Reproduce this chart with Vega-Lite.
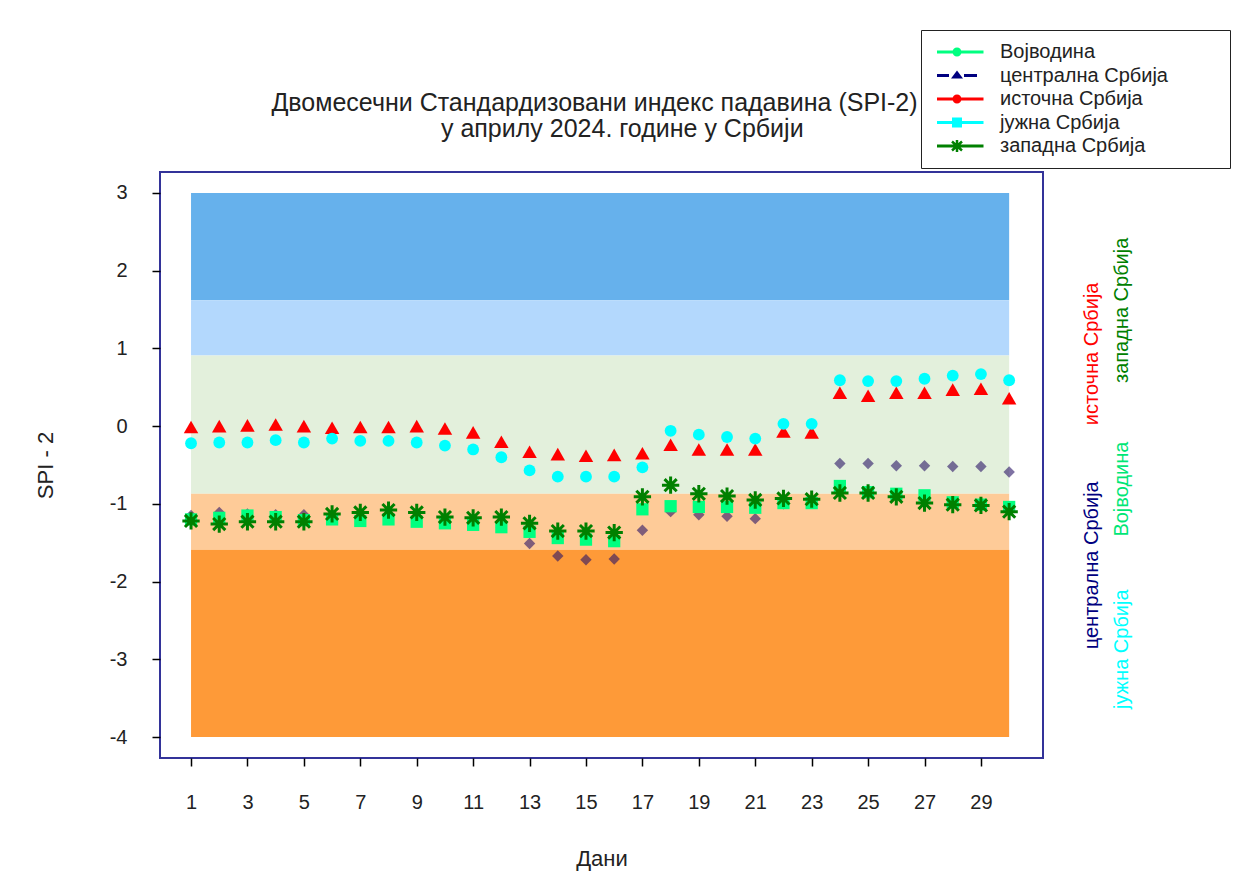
{
  "$schema": "https://vega.github.io/schema/vega-lite/v6.json",
  "width": 883,
  "height": 586,
  "autosize": {"type": "none"},
  "padding": {"left": 160, "top": 172, "right": 202, "bottom": 124},
  "background": "white",
  "config": {
    "font": "Liberation Sans",
    "view": {"stroke": "#333399", "strokeWidth": 2},
    "axis": {"grid": false, "domain": false, "tickColor": "black", "tickSize": 8, "tickWidth": 1.5,
             "labelFont": "Liberation Sans", "labelFontSize": 20, "labelColor": "#222222",
             "titleFont": "Liberation Sans", "titleFontSize": 22, "titleFontWeight": "normal", "titleColor": "#222222"}
  },
  "title": {
    "text": ["Двомесечни Стандардизовани индекс падавина (SPI-2)", "\u200b\u00a0\u00a0\u00a0\u00a0\u00a0\u00a0\u00a0\u00a0у априлу 2024. године у Србији"],
    "anchor": "middle", "frame": "group", "dx": -7, "dy": 150, "offset": 38, "fontSize": 25, "fontWeight": "normal", "font": "Liberation Sans",
    "color": "#222222", "lineHeight": 26
  },
  "datasets": {
    "spi": [
      {"day":1,"region":"Војводина","spi":-1.20},{"day":2,"region":"Војводина","spi":-1.18},{"day":3,"region":"Војводина","spi":-1.15},{"day":4,"region":"Војводина","spi":-1.17},{"day":5,"region":"Војводина","spi":-1.21},{"day":6,"region":"Војводина","spi":-1.20},{"day":7,"region":"Војводина","spi":-1.22},{"day":8,"region":"Војводина","spi":-1.20},{"day":9,"region":"Војводина","spi":-1.23},{"day":10,"region":"Војводина","spi":-1.25},{"day":11,"region":"Војводина","spi":-1.27},{"day":12,"region":"Војводина","spi":-1.30},{"day":13,"region":"Војводина","spi":-1.36},{"day":14,"region":"Војводина","spi":-1.44},{"day":15,"region":"Војводина","spi":-1.46},{"day":16,"region":"Војводина","spi":-1.48},{"day":17,"region":"Војводина","spi":-1.07},{"day":18,"region":"Војводина","spi":-1.03},{"day":19,"region":"Војводина","spi":-1.04},{"day":20,"region":"Војводина","spi":-1.04},{"day":21,"region":"Војводина","spi":-1.05},{"day":22,"region":"Војводина","spi":-0.99},{"day":23,"region":"Војводина","spi":-0.99},{"day":24,"region":"Војводина","spi":-0.77},{"day":25,"region":"Војводина","spi":-0.85},{"day":26,"region":"Војводина","spi":-0.87},{"day":27,"region":"Војводина","spi":-0.89},{"day":28,"region":"Војводина","spi":-0.98},{"day":29,"region":"Војводина","spi":-1.01},{"day":30,"region":"Војводина","spi":-1.04},
      {"day":1,"region":"централна Србија","spi":-1.15},{"day":2,"region":"централна Србија","spi":-1.11},{"day":3,"region":"централна Србија","spi":-1.13},{"day":4,"region":"централна Србија","spi":-1.14},{"day":5,"region":"централна Србија","spi":-1.14},{"day":6,"region":"централна Србија","spi":-1.15},{"day":7,"region":"централна Србија","spi":-1.17},{"day":8,"region":"централна Србија","spi":-1.17},{"day":9,"region":"централна Србија","spi":-1.16},{"day":10,"region":"централна Србија","spi":-1.19},{"day":11,"region":"централна Србија","spi":-1.22},{"day":12,"region":"централна Србија","spi":-1.30},{"day":13,"region":"централна Србија","spi":-1.51},{"day":14,"region":"централна Србија","spi":-1.67},{"day":15,"region":"централна Србија","spi":-1.72},{"day":16,"region":"централна Србија","spi":-1.71},{"day":17,"region":"централна Србија","spi":-1.34},{"day":18,"region":"централна Србија","spi":-1.10},{"day":19,"region":"централна Србија","spi":-1.14},{"day":20,"region":"централна Србија","spi":-1.16},{"day":21,"region":"централна Србија","spi":-1.19},{"day":22,"region":"централна Србија","spi":-1.00},{"day":23,"region":"централна Србија","spi":-0.97},{"day":24,"region":"централна Србија","spi":-0.48},{"day":25,"region":"централна Србија","spi":-0.48},{"day":26,"region":"централна Србија","spi":-0.51},{"day":27,"region":"централна Србија","spi":-0.51},{"day":28,"region":"централна Србија","spi":-0.52},{"day":29,"region":"централна Србија","spi":-0.52},{"day":30,"region":"централна Србија","spi":-0.59},
      {"day":1,"region":"источна Србија","spi":-0.01},{"day":2,"region":"источна Србија","spi":0.00},{"day":3,"region":"источна Србија","spi":0.01},{"day":4,"region":"источна Србија","spi":0.02},{"day":5,"region":"источна Србија","spi":0.00},{"day":6,"region":"источна Србија","spi":-0.02},{"day":7,"region":"источна Србија","spi":-0.01},{"day":8,"region":"источна Србија","spi":-0.01},{"day":9,"region":"источна Србија","spi":0.00},{"day":10,"region":"источна Србија","spi":-0.03},{"day":11,"region":"источна Србија","spi":-0.08},{"day":12,"region":"источна Србија","spi":-0.20},{"day":13,"region":"источна Србија","spi":-0.33},{"day":14,"region":"источна Србија","spi":-0.36},{"day":15,"region":"источна Србија","spi":-0.38},{"day":16,"region":"источна Србија","spi":-0.37},{"day":17,"region":"источна Србија","spi":-0.35},{"day":18,"region":"источна Србија","spi":-0.24},{"day":19,"region":"источна Србија","spi":-0.30},{"day":20,"region":"источна Србија","spi":-0.30},{"day":21,"region":"источна Србија","spi":-0.30},{"day":22,"region":"источна Србија","spi":-0.07},{"day":23,"region":"источна Србија","spi":-0.08},{"day":24,"region":"источна Србија","spi":0.43},{"day":25,"region":"источна Србија","spi":0.39},{"day":26,"region":"источна Србија","spi":0.43},{"day":27,"region":"источна Србија","spi":0.43},{"day":28,"region":"источна Србија","spi":0.47},{"day":29,"region":"источна Србија","spi":0.48},{"day":30,"region":"источна Србија","spi":0.36},
      {"day":1,"region":"јужна Србија","spi":-0.22},{"day":2,"region":"јужна Србија","spi":-0.21},{"day":3,"region":"јужна Србија","spi":-0.21},{"day":4,"region":"јужна Србија","spi":-0.18},{"day":5,"region":"јужна Србија","spi":-0.21},{"day":6,"region":"јужна Србија","spi":-0.16},{"day":7,"region":"јужна Србија","spi":-0.19},{"day":8,"region":"јужна Србија","spi":-0.19},{"day":9,"region":"јужна Србија","spi":-0.21},{"day":10,"region":"јужна Србија","spi":-0.25},{"day":11,"region":"јужна Србија","spi":-0.30},{"day":12,"region":"јужна Србија","spi":-0.40},{"day":13,"region":"јужна Србија","spi":-0.57},{"day":14,"region":"јужна Србија","spi":-0.65},{"day":15,"region":"јужна Србија","spi":-0.65},{"day":16,"region":"јужна Србија","spi":-0.65},{"day":17,"region":"јужна Србија","spi":-0.53},{"day":18,"region":"јужна Србија","spi":-0.06},{"day":19,"region":"јужна Србија","spi":-0.11},{"day":20,"region":"јужна Србија","spi":-0.14},{"day":21,"region":"јужна Србија","spi":-0.16},{"day":22,"region":"јужна Србија","spi":0.03},{"day":23,"region":"јужна Србија","spi":0.03},{"day":24,"region":"јужна Србија","spi":0.59},{"day":25,"region":"јужна Србија","spi":0.58},{"day":26,"region":"јужна Србија","spi":0.58},{"day":27,"region":"јужна Србија","spi":0.61},{"day":28,"region":"јужна Србија","spi":0.65},{"day":29,"region":"јужна Србија","spi":0.67},{"day":30,"region":"јужна Србија","spi":0.59},
      {"day":1,"region":"западна Србија","spi":-1.22},{"day":2,"region":"западна Србија","spi":-1.26},{"day":3,"region":"западна Србија","spi":-1.23},{"day":4,"region":"западна Србија","spi":-1.23},{"day":5,"region":"западна Србија","spi":-1.23},{"day":6,"region":"западна Србија","spi":-1.13},{"day":7,"region":"западна Србија","spi":-1.11},{"day":8,"region":"западна Србија","spi":-1.08},{"day":9,"region":"западна Србија","spi":-1.11},{"day":10,"region":"западна Србија","spi":-1.17},{"day":11,"region":"западна Србија","spi":-1.18},{"day":12,"region":"западна Србија","spi":-1.17},{"day":13,"region":"западна Србија","spi":-1.25},{"day":14,"region":"западна Србија","spi":-1.35},{"day":15,"region":"западна Србија","spi":-1.35},{"day":16,"region":"западна Србија","spi":-1.37},{"day":17,"region":"западна Србија","spi":-0.91},{"day":18,"region":"западна Србија","spi":-0.76},{"day":19,"region":"западна Србија","spi":-0.87},{"day":20,"region":"западна Србија","spi":-0.90},{"day":21,"region":"западна Србија","spi":-0.95},{"day":22,"region":"западна Србија","spi":-0.93},{"day":23,"region":"западна Србија","spi":-0.94},{"day":24,"region":"западна Србија","spi":-0.86},{"day":25,"region":"западна Србија","spi":-0.86},{"day":26,"region":"западна Србија","spi":-0.91},{"day":27,"region":"западна Србија","spi":-0.99},{"day":28,"region":"западна Србија","spi":-1.01},{"day":29,"region":"западна Србија","spi":-1.02},{"day":30,"region":"западна Србија","spi":-1.10}
    ],
    "bands": [
      {"band":"b1","lo":1.62,"hi":3},
      {"band":"b2","lo":0.91,"hi":1.62},
      {"band":"b3","lo":-0.87,"hi":0.91},
      {"band":"b4","lo":-1.59,"hi":-0.87},
      {"band":"b5","lo":-4,"hi":-1.59}
    ]
  },
  "layer": [
    {
      "data": {"name": "bands"},
      "mark": {"type": "rect"},
      "encoding": {
        "x": {"datum": 1, "type": "quantitative"},
        "x2": {"datum": 30},
        "y": {"field": "lo", "type": "quantitative"},
        "y2": {"field": "hi"},
        "fill": {"field": "band", "type": "nominal", "legend": null,
                 "scale": {"domain": ["b1","b2","b3","b4","b5"], "range": ["#66B1EC","#B3D8FD","#E3F0DC","#FECB98","#FE9A38"]}}
      }
    },
    {
      "data": {"name": "spi"},
      "transform": [{"filter": "datum.region == 'централна Србија'"}],
      "mark": {"type": "point", "shape": "diamond", "filled": true, "size": 130, "color": "#2A1466", "opacity": 0.6},
      "encoding": {
        "x": {"field": "day", "type": "quantitative"},
        "y": {"field": "spi", "type": "quantitative"}
      }
    },
    {
      "data": {"name": "spi"},
      "transform": [{"filter": "datum.region == 'Војводина'"}],
      "mark": {"type": "point", "shape": "square", "filled": true, "size": 150, "color": "#00FF80", "opacity": 1},
      "encoding": {
        "x": {"field": "day", "type": "quantitative"},
        "y": {"field": "spi", "type": "quantitative"}
      }
    },
    {
      "data": {"name": "spi"},
      "transform": [{"filter": "datum.region == 'источна Србија'"}],
      "mark": {"type": "point", "shape": "triangle-up", "filled": true, "size": 210, "color": "#FF0000", "opacity": 1},
      "encoding": {
        "x": {"field": "day", "type": "quantitative"},
        "y": {"field": "spi", "type": "quantitative"}
      }
    },
    {
      "data": {"name": "spi"},
      "transform": [{"filter": "datum.region == 'јужна Србија'"}],
      "mark": {"type": "point", "shape": "circle", "filled": true, "size": 140, "color": "#00FFFF", "opacity": 1},
      "encoding": {
        "x": {"field": "day", "type": "quantitative"},
        "y": {"field": "spi", "type": "quantitative"}
      }
    },
    {
      "data": {"name": "spi"},
      "transform": [{"filter": "datum.region == 'западна Србија'"}],
      "mark": {"type": "point", "shape": "M0,-1L0,1M-1,0L1,0M-0.7,-0.7L0.7,0.7M-0.7,0.7L0.7,-0.7", "filled": false, "size": 300, "color": "#008000", "strokeWidth": 3, "opacity": 1},
      "encoding": {
        "x": {"field": "day", "type": "quantitative"},
        "y": {"field": "spi", "type": "quantitative"}
      }
    },
    {
      "data": {"name": "spi"},
      "transform": [{"filter": "false"}],
      "mark": {"type": "point", "filled": true, "size": 100, "opacity": 1},
      "encoding": {
        "x": {"field": "day", "type": "quantitative",
              "scale": {"domain": [-0.1, 31.2], "nice": false, "zero": false},
              "axis": {"values": [1,2,3,4,5,6,7,8,9,10,11,12,13,14,15,16,17,18,19,20,21,22,23,24,25,26,27,28,29,30],
                       "labelExpr": "datum.value % 2 == 1 ? datum.label : ''", "labelPadding": 26, "labelFlush": false,
                       "title": "Дани", "titlePadding": 36}},
        "y": {"field": "spi", "type": "quantitative",
              "scale": {"domain": [-4.27, 3.27], "nice": false, "zero": false},
              "axis": {"values": [-4,-3,-2,-1,0,1,2,3], "labelExpr": "'' + datum.value", "labelPadding": 25, "title": "SPI - 2", "titlePadding": 52}},
        "color": {"field": "region", "type": "nominal",
                  "scale": {"domain": ["Војводина","централна Србија","источна Србија","јужна Србија","западна Србија"],
                            "range": ["#00FF80","#000080","#FF0000","#00FFFF","#008000"]},
                  "legend": {"orient": "none", "legendX": 761, "legendY": -142, "title": null, "padding": 12,
                             "strokeColor": "#222222", "fillColor": "white", "labelFont": "Liberation Sans", "labelFontSize": 20,
                             "labelColor": "#222222", "labelOffset": 47, "labelLimit": 500, "rowPadding": 3.5, "symbolSize": 100, "symbolStrokeWidth": 0,
                             "labelExpr": "datum.label + '\u00a0\u00a0\u00a0\u00a0\u00a0\u00a0\u00a0\u00a0\u00a0\u200b'"}},
        "shape": {"field": "region", "type": "nominal",
                  "scale": {"domain": ["Војводина","централна Србија","источна Србија","јужна Србија","западна Србија"],
                            "range": [
                              "M-1.2,-0.3L8.1,-0.3L8.1,0.3L-1.2,0.3ZM3.7,0A0.9,0.9,0,1,1,1.9,0A0.9,0.9,0,1,1,3.7,0Z",
                              "M-1.2,-0.3L1.2,-0.3L1.2,0.3L-1.2,0.3ZM4.2,-0.3L6.8,-0.3L6.8,0.3L4.2,0.3ZM2.8,-1L4,0.6L1.6,0.6Z",
                              "M-1.2,-0.3L8.1,-0.3L8.1,0.3L-1.2,0.3ZM3.7,0A0.9,0.9,0,1,1,1.9,0A0.9,0.9,0,1,1,3.7,0Z",
                              "M-1.2,-0.3L8.1,-0.3L8.1,0.3L-1.2,0.3ZM1.8,-1L3.8,-1L3.8,1L1.8,1Z",
                              "M-1.2,-0.3L8.1,-0.3L8.1,0.3L-1.2,0.3ZM2.55,-1.2L3.05,-1.2L3.05,1.2L2.55,1.2ZM1.967,-1.086L3.967,0.714L3.633,1.086L1.633,-0.714ZM1.633,0.714L3.633,-1.086L3.967,-0.714L1.967,1.086Z"
                            ]},
                  "legend": {"orient": "none", "legendX": 761, "legendY": -142, "title": null, "padding": 12,
                             "strokeColor": "#222222", "fillColor": "white", "labelFont": "Liberation Sans", "labelFontSize": 20,
                             "labelColor": "#222222", "labelOffset": 47, "labelLimit": 500, "rowPadding": 3.5, "symbolSize": 100, "symbolStrokeWidth": 0,
                             "labelExpr": "datum.label + '\u00a0\u00a0\u00a0\u00a0\u00a0\u00a0\u00a0\u00a0\u00a0\u200b'"}}
      }
    },
    {
      "data": {"values": [{"label": "источна Србија"}]},
      "mark": {"type": "text", "angle": 270, "align": "center", "baseline": "middle", "fontSize": 20, "color": "#FF0000"},
      "encoding": {"x": {"datum": 32.95, "type": "quantitative"}, "y": {"datum": 0.93, "type": "quantitative"}, "text": {"field": "label"}}
    },
    {
      "data": {"values": [{"label": "западна Србија"}]},
      "mark": {"type": "text", "angle": 270, "align": "center", "baseline": "middle", "fontSize": 20, "color": "#008000"},
      "encoding": {"x": {"datum": 34.0, "type": "quantitative"}, "y": {"datum": 1.49, "type": "quantitative"}, "text": {"field": "label"}}
    },
    {
      "data": {"values": [{"label": "централна Србија"}]},
      "mark": {"type": "text", "angle": 270, "align": "center", "baseline": "middle", "fontSize": 20, "color": "#000080"},
      "encoding": {"x": {"datum": 32.95, "type": "quantitative"}, "y": {"datum": -1.79, "type": "quantitative"}, "text": {"field": "label"}}
    },
    {
      "data": {"values": [{"label": "Војводина"}]},
      "mark": {"type": "text", "angle": 270, "align": "center", "baseline": "middle", "fontSize": 20, "color": "#00E676"},
      "encoding": {"x": {"datum": 34.0, "type": "quantitative"}, "y": {"datum": -0.81, "type": "quantitative"}, "text": {"field": "label"}}
    },
    {
      "data": {"values": [{"label": "јужна Србија"}]},
      "mark": {"type": "text", "angle": 270, "align": "center", "baseline": "middle", "fontSize": 20, "color": "#00FFFF"},
      "encoding": {"x": {"datum": 34.0, "type": "quantitative"}, "y": {"datum": -2.87, "type": "quantitative"}, "text": {"field": "label"}}
    }
  ]
}
